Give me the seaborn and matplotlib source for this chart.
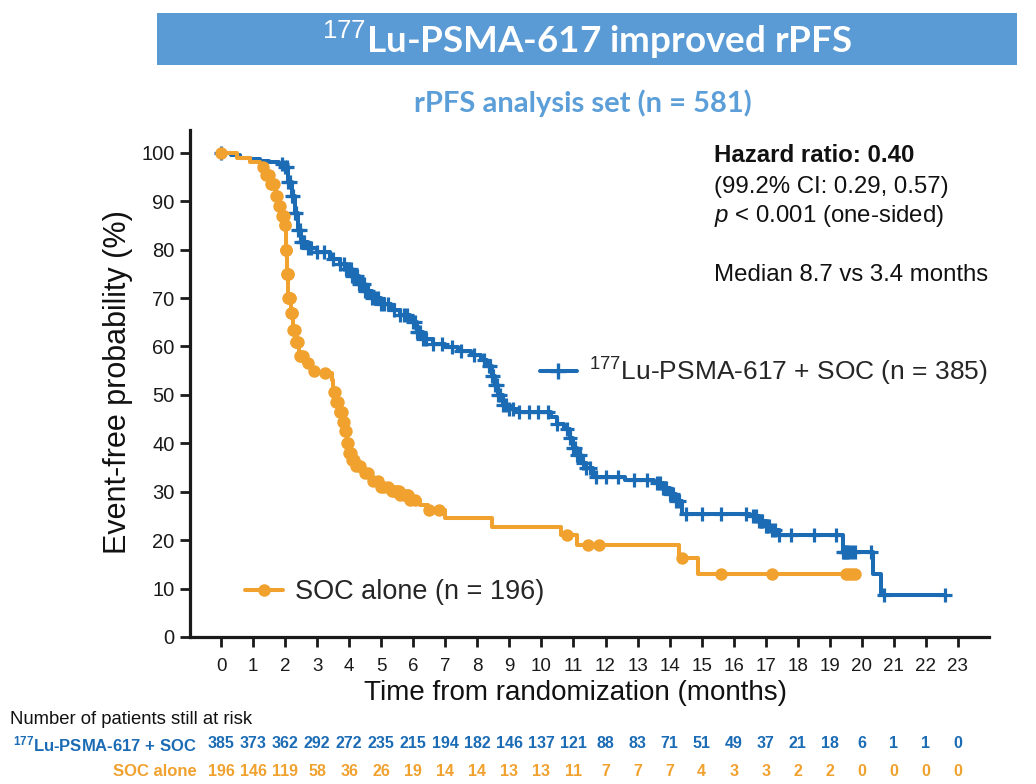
import numpy as np
import pandas as pd
import matplotlib
matplotlib.use("Agg")
import matplotlib.pyplot as plt
import seaborn as sns
from matplotlib.patches import Rectangle
from matplotlib.lines import Line2D
from matplotlib.transforms import blended_transform_factory
from matplotlib import font_manager

# ---------------- data ----------------
blue_t = [0, 0.3, 0.6, 0.9, 1.2, 1.5, 1.8, 2.0, 2.1, 2.2, 2.3, 2.4, 2.5, 2.7, 3.0, 3.4,
          3.7, 3.9, 4.1, 4.3, 4.5, 4.7, 5.0, 5.3, 5.6, 5.9, 6.1, 6.3, 6.6, 7.0, 7.4, 7.8,
          8.1, 8.3, 8.45, 8.55, 8.65, 8.8, 8.95, 9.3, 10.3, 10.5, 10.7, 10.9, 11.0, 11.1,
          11.25, 11.4, 11.6, 12.6, 13.5, 13.8, 14.0, 14.2, 14.4, 16.5, 16.8, 17.0, 17.2,
          17.4, 19.4, 20.35, 20.6, 22.6]
blue_s = [100, 99.5, 99, 98.7, 98.3, 98, 97.6, 97, 94, 91, 87.5, 84, 81.5, 80.3, 79.5, 78,
          77, 76, 74.5, 73, 71.5, 70, 68.8, 67.5, 66.5, 65, 63, 61.5, 60.5, 59.8, 59, 58.2,
          57.3, 56, 54, 52, 50, 48, 47, 46.5, 45.5, 44, 43, 41, 39, 37.5,
          36, 35, 33, 32.5, 31.8, 30.8, 29.5, 28, 25.5, 25, 24, 23, 22,
          21, 17.5, 13, 8.6, 8.6]
blue_censor = [0, 1.9, 2.0, 2.05, 2.1, 2.15, 2.2, 2.25, 2.3, 2.35, 2.4, 2.45, 2.5, 2.55,
               2.6, 2.7, 2.8, 3.0, 3.2, 3.5, 3.7, 3.85, 3.9, 3.95, 4.0, 4.05, 4.1, 4.15,
               4.2, 4.25, 4.3, 4.35, 4.4, 4.45, 4.5, 4.55, 4.6, 4.7, 4.8, 4.9, 5.0, 5.1,
               5.2, 5.4, 5.6, 5.7, 5.8, 6.0, 6.05, 6.1, 6.15, 6.2, 6.3, 6.4, 6.6, 6.9, 7.2,
               7.5, 7.9, 8.2, 8.35, 8.4, 8.45, 8.5, 8.55, 8.6, 8.65, 8.7, 8.8, 8.9, 9.0,
               9.1, 9.3, 9.6, 9.9, 10.2, 10.5, 10.8, 10.9, 11.0, 11.05, 11.1, 11.2, 11.3,
               11.4, 11.5, 11.7, 12.0, 12.4, 12.9, 13.3, 13.6, 13.7, 13.8, 13.85, 13.9,
               14.0, 14.1, 14.2, 14.3, 14.5, 15.0, 15.6, 16.4, 16.6, 16.7, 16.8, 16.85,
               16.9, 17.0, 17.05, 17.1, 17.2, 17.3, 17.4, 17.8, 18.5, 19.2, 19.4, 19.45,
               19.5, 19.55, 19.6, 19.7, 19.8, 20.3, 20.7, 22.6]

orange_t = [0, 0.5, 0.9, 1.2, 1.4, 1.55, 1.7, 1.8, 1.9, 1.97, 2.02, 2.06, 2.1, 2.18, 2.25,
            2.32, 2.42, 2.6, 2.8, 3.0, 3.45, 3.5, 3.6, 3.7, 3.8, 3.87, 3.93, 4.0, 4.1, 4.2,
            4.4, 4.7, 5.0, 5.3, 5.6, 5.9, 6.2, 6.45, 7.0, 8.45, 10.6, 11.1, 14.3, 14.9, 19.85]
orange_s = [100, 99, 98, 97, 95.5, 93.5, 91, 89, 87, 85, 80, 75, 70, 67, 63.5,
            61, 58, 56.5, 55, 54.5, 53, 50.5, 48.5, 46.5, 44.5, 42.5, 40, 38, 36.5, 35.3,
            33.8, 32.3, 31, 30.2, 29.3, 28.3, 27.3, 26.3, 24.5, 22.8, 21, 19.1, 16.3, 13, 13]
orange_censor = [0, 1.3, 1.4, 1.45, 1.5, 1.55, 1.6, 1.65, 1.7, 1.75, 1.8, 1.85, 1.9, 1.93,
                 1.95, 1.98, 2.0, 2.02, 2.03, 2.04, 2.06, 2.07, 2.08, 2.09, 2.1, 2.12,
                 2.14, 2.15, 2.18, 2.2, 2.22, 2.25, 2.28, 2.3, 2.33, 2.35, 2.38, 2.4, 2.45,
                 2.5, 2.55, 2.7, 2.9, 3.25, 3.52, 3.55, 3.6, 3.65, 3.7, 3.72, 3.75, 3.78,
                 3.82, 3.85, 3.88, 3.9, 3.93, 3.95, 4.0, 4.05, 4.1, 4.15, 4.2, 4.3, 4.35,
                 4.5, 4.6, 4.75, 4.9, 5.0, 5.1, 5.2, 5.35, 5.4, 5.45, 5.5, 5.55, 5.6, 5.7,
                 5.8, 5.85, 5.9, 6.05, 6.5, 6.8, 10.8, 11.45, 11.8, 14.4, 15.6, 17.2,
                 19.5, 19.6, 19.7, 19.8]

months = list(range(0, 24))
risk_blue = [385, 373, 362, 292, 272, 235, 215, 194, 182, 146, 137, 121, 88, 83, 71, 51,
             49, 37, 21, 18, 6, 1, 1, 0]
risk_orange = [196, 146, 119, 58, 36, 26, 19, 14, 14, 13, 13, 11, 7, 7, 7, 4, 3, 3, 2, 2,
               0, 0, 0, 0]

BLUE = "#1b6cb5"
ORANGE = "#f0a12e"
TITLE_BG = "#5b9bd5"

# ---------------- style ----------------
sns.set_theme(style="ticks")
avail = {f.name for f in font_manager.fontManager.ttflist}
narrow = "Liberation Sans Narrow" if "Liberation Sans Narrow" in avail else "Liberation Sans"
title_font = "Lato" if "Lato" in avail else "DejaVu Sans"
plt.rcParams["font.family"] = ["Liberation Sans", "DejaVu Sans"]
plt.rcParams["mathtext.fontset"] = "custom"
plt.rcParams["mathtext.rm"] = "Liberation Sans"
plt.rcParams["mathtext.it"] = "Liberation Sans:italic"
plt.rcParams["mathtext.bf"] = "Liberation Sans:bold"

W, H = 1036, 784
fig = plt.figure(figsize=(W / 100, H / 100), dpi=100)
fig.patch.set_facecolor("white")

ax = fig.add_axes([190 / W, 1 - 637 / H, (989 - 190) / W, (637 - 130) / H])


def step_value(tt, ss, c):
    idx = np.searchsorted(np.asarray(tt), c, side="right") - 1
    return np.asarray(ss)[np.clip(idx, 0, len(ss) - 1)]


blue_df = pd.DataFrame({"t": blue_t, "s": blue_s})
orange_df = pd.DataFrame({"t": orange_t, "s": orange_s})
blue_c = pd.DataFrame({"t": blue_censor, "s": step_value(blue_t, blue_s, blue_censor)})
orange_c = pd.DataFrame({"t": orange_censor, "s": step_value(orange_t, orange_s, orange_censor)})

sns.lineplot(data=blue_df, x="t", y="s", ax=ax, color=BLUE, linewidth=2.9,
             drawstyle="steps-post", estimator=None, sort=False, zorder=3)
sns.scatterplot(data=blue_c, x="t", y="s", ax=ax, color=BLUE, marker="+", s=95,
                linewidth=2.3, zorder=4)
sns.lineplot(data=orange_df, x="t", y="s", ax=ax, color=ORANGE, linewidth=2.9,
             drawstyle="steps-post", estimator=None, sort=False, zorder=5)
sns.scatterplot(data=orange_c, x="t", y="s", ax=ax, color=ORANGE, marker="o", s=80,
                linewidth=0, zorder=6)

ax.set_xlim(-0.97, 23.97)
ax.set_ylim(0, 104.7)
ax.set_xticks(months)
ax.set_yticks(range(0, 101, 10))
ax.tick_params(axis="both", direction="out", length=7, width=2, color="#1a1a1a",
               labelcolor="#1a1a1a")
ax.tick_params(axis="y", labelsize=14.5, pad=4)
ax.tick_params(axis="x", labelsize=13.5, pad=8)
for side in ["top", "right"]:
    ax.spines[side].set_visible(False)
for side in ["left", "bottom"]:
    ax.spines[side].set_linewidth(2.3)
    ax.spines[side].set_color("#1a1a1a")

ax.set_xlabel("Time from randomization (months)", fontsize=20, color="#111111")
ax.xaxis.label.set_va("center")
ax.xaxis.set_label_coords(0.483, -0.110)
ax.set_ylabel("Event-free probability (%)", fontsize=22, color="#111111")
ax.yaxis.label.set_va("center")
ax.yaxis.set_label_coords(-0.090, 0.503)

# legends
h_blue = Line2D([], [], color=BLUE, lw=2.9, marker="+", markersize=11, mew=2.4)
h_orange = Line2D([], [], color=ORANGE, lw=2.9, marker="o", markersize=9, mew=0)
leg1 = ax.legend(handles=[h_blue], labels=["$^{177}$Lu-PSMA-617 + SOC (n = 385)"],
                 loc="center left", bbox_to_anchor=(540 / W, 1 - 372 / H),
                 bbox_transform=fig.transFigure, frameon=False, fontsize=19,
                 handlelength=1.4, handletextpad=0.45, borderpad=0, borderaxespad=0)
ax.add_artist(leg1)
ax.legend(handles=[h_orange], labels=["SOC alone (n = 196)"],
          loc="center left", bbox_to_anchor=(245 / W, 1 - 592 / H),
          bbox_transform=fig.transFigure, frameon=False, fontsize=19.5,
          handlelength=1.4, handletextpad=0.45, borderpad=0, borderaxespad=0)

# annotations
tx = 714 / W
fs_ann = 17.3
fig.text(tx, 1 - 162 / H, "Hazard ratio: 0.40", fontsize=fs_ann, fontweight="bold",
         color="#111111", va="baseline")
fig.text(tx, 1 - 193 / H, "(99.2% CI: 0.29, 0.57)", fontsize=fs_ann, color="#111111",
         va="baseline")
fig.text(tx, 1 - 222 / H, "$p$ < 0.001 (one-sided)", fontsize=fs_ann, color="#111111",
         va="baseline")
fig.text(tx, 1 - 281 / H, "Median 8.7 vs 3.4 months", fontsize=fs_ann, color="#111111",
         va="baseline")

# title box
fig.patches.append(Rectangle((157 / W, 1 - 65 / H), 860 / W, 52 / H,
                             transform=fig.transFigure, facecolor=TITLE_BG,
                             edgecolor="none", zorder=0))
fig.text(587 / W, 1 - 40 / H, "$^{177}$Lu-PSMA-617 improved rPFS", fontsize=26.5,
         fontweight="bold", family=title_font, color="white", ha="center", va="center")
fig.text(583 / W, 1 - 103 / H, "rPFS analysis set (n = 581)", fontsize=21,
         fontweight="bold", family=title_font, color="#5c9fd8", ha="center", va="center")

# risk table
fig.text(10 / W, 1 - 719 / H, "Number of patients still at risk", fontsize=13.3,
         family=narrow, color="#111111", va="center")
trans = blended_transform_factory(ax.transData, fig.transFigure)
yb, yo = 1 - 744 / H, 1 - 771 / H
fig.text(197 / W, yb, "$^{\\mathbf{177}}$Lu-PSMA-617 + SOC", fontsize=12,
         fontweight="bold", family=narrow, color=BLUE, ha="right", va="center")
fig.text(197 / W, yo, "SOC alone", fontsize=12, fontweight="bold", family=narrow,
         color=ORANGE, ha="right", va="center")
for m, rb, ro in zip(months, risk_blue, risk_orange):
    ax.text(m, yb, str(rb), transform=trans, fontsize=11.5, fontweight="bold",
            family=narrow, color=BLUE, ha="center", va="center", clip_on=False)
    ax.text(m, yo, str(ro), transform=trans, fontsize=11.5, fontweight="bold",
            family=narrow, color=ORANGE, ha="center", va="center", clip_on=False)

fig.savefig("out.png", dpi=100, facecolor="white")
